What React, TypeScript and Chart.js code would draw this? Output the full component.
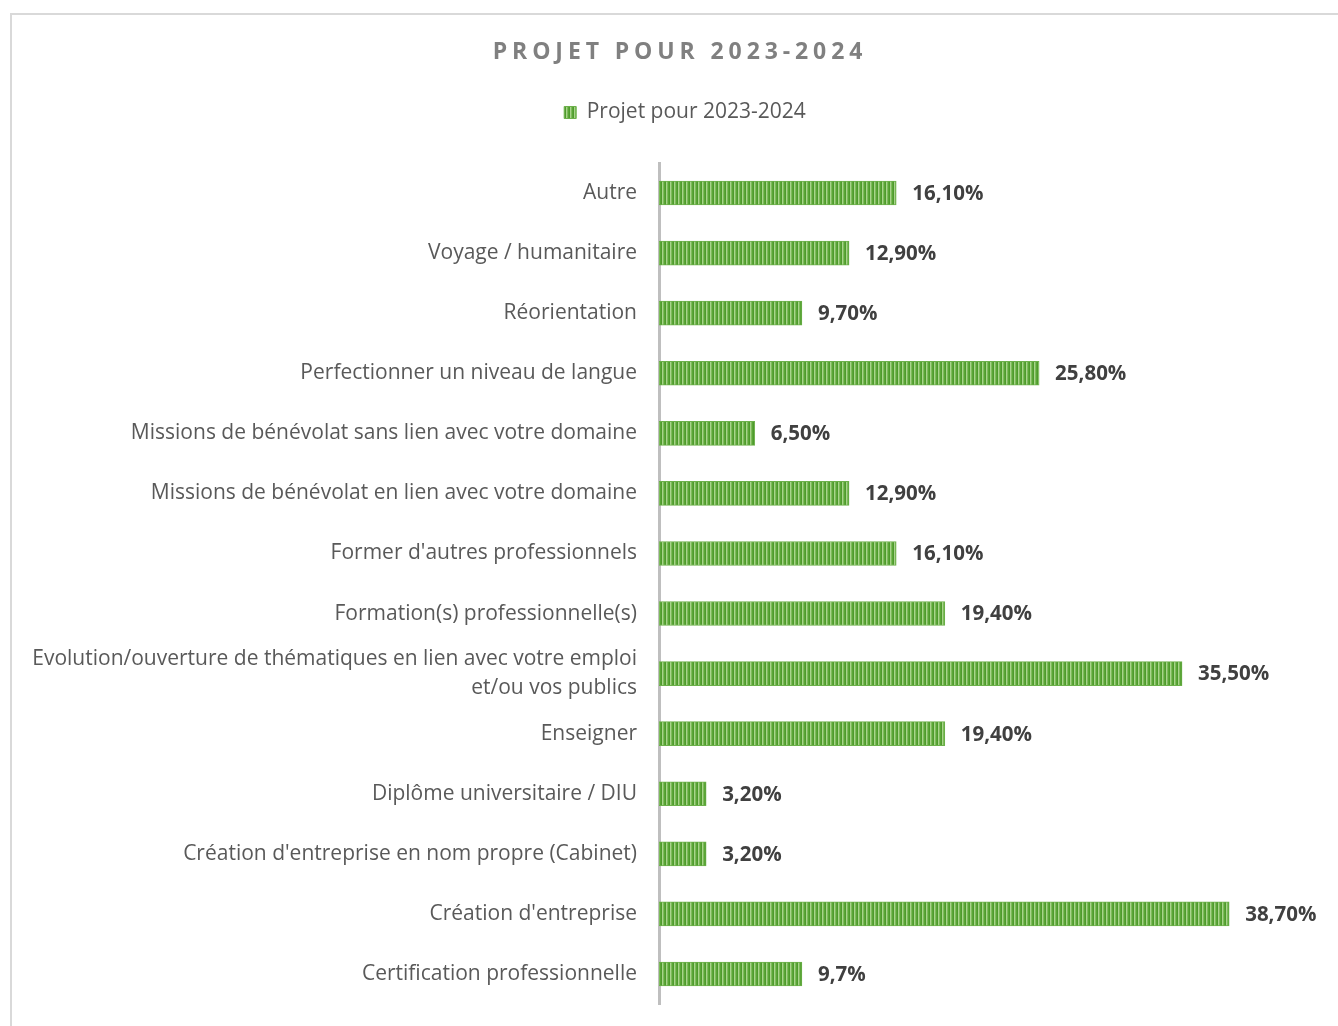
import React, { useEffect, useRef } from "react";
import { Chart, registerables } from "chart.js";

Chart.register(...registerables);

const chartTitle = "PROJET POUR 2023-2024";
const seriesName = "Projet pour 2023-2024";
const categories: (string | string[])[] = [
  "Autre",
  "Voyage / humanitaire",
  "Réorientation",
  "Perfectionner un niveau de langue",
  "Missions de bénévolat sans lien avec votre domaine",
  "Missions de bénévolat en lien avec votre domaine",
  "Former d'autres professionnels",
  "Formation(s) professionnelle(s)",
  ["Evolution/ouverture de thématiques en lien avec votre emploi", "et/ou vos publics"],
  "Enseigner",
  "Diplôme universitaire / DIU",
  "Création d'entreprise en nom propre (Cabinet)",
  "Création d'entreprise",
  "Certification professionnelle",
];
const values = [16.1, 12.9, 9.7, 25.8, 6.5, 12.9, 16.1, 19.4, 35.5, 19.4, 3.2, 3.2, 38.7, 9.7];
const valueLabels = [
  "16,10%", "12,90%", "9,70%", "25,80%", "6,50%", "12,90%", "16,10%",
  "19,40%", "35,50%", "19,40%", "3,20%", "3,20%", "38,70%", "9,7%",
];

const FONT = "'Open Sans', 'Noto Sans', sans-serif";

function makePattern(): CanvasPattern | string {
  const c = document.createElement("canvas");
  c.width = 4;
  c.height = 4;
  const x = c.getContext("2d");
  if (!x) return "#70ad47";
  const cols = ["#5aa537", "#4e9a2c", "#a8d48c", "#7dbb5a"];
  cols.forEach((col, i) => {
    x.fillStyle = col;
    x.fillRect(i, 0, 1, 4);
  });
  const ctx = document.createElement("canvas").getContext("2d");
  return (ctx && ctx.createPattern(c, "repeat")) || "#70ad47";
}

const titlePlugin = {
  id: "spacedTitle",
  afterDraw(chart: any) {
    const ctx = chart.ctx as CanvasRenderingContext2D;
    ctx.save();
    ctx.font = `bold 23px ${FONT}`;
    (ctx as any).letterSpacing = "4.9px";
    ctx.fillStyle = "#808080";
    ctx.textAlign = "center";
    ctx.textBaseline = "middle";
    ctx.fillText(chartTitle, chart.width / 2, 37);
    ctx.restore();
  },
};

const legendGapPlugin = {
  id: "legendGap",
  beforeLayout(chart: any) {
    const lg = chart.legend;
    if (lg && !lg.__gapPatched) {
      const orig = lg.fit;
      lg.fit = function () {
        orig.call(this);
        this.height += 30;
      };
      lg.__gapPatched = true;
    }
  },
  afterLayout(chart: any) {
    const lg = chart.legend;
    if (lg) lg.left += 36;
  },
};

const valueLabelPlugin = {
  id: "valueLabels",
  afterDatasetsDraw(chart: any) {
    const ctx = chart.ctx as CanvasRenderingContext2D;
    const meta = chart.getDatasetMeta(0);
    ctx.save();
    ctx.font = `bold 20.5px ${FONT}`;
    ctx.fillStyle = "#404040";
    ctx.textAlign = "left";
    ctx.textBaseline = "middle";
    meta.data.forEach((el: any, i: number) => {
      ctx.fillText(valueLabels[i], el.x + 16, el.y + 1);
    });
    ctx.restore();
  },
};

export default function App() {
  const ref = useRef<HTMLCanvasElement | null>(null);
  useEffect(() => {
    if (!ref.current) return;
    const pattern = makePattern();
    const chart = new Chart(ref.current, {
      type: "bar",
      data: {
        labels: categories,
        datasets: [
          {
            label: seriesName,
            data: values,
            backgroundColor: pattern as any,
            borderColor: "#6cb04a",
            borderWidth: 1,
            barThickness: 24,
          },
        ],
      },
      options: {
        indexAxis: "y",
        animation: false,
        responsive: false,
        maintainAspectRatio: false,
        layout: { padding: { top: 37, right: 26, bottom: 41, left: 0 } },
        plugins: {
          title: { display: false },
          tooltip: { enabled: false },
          legend: {
            display: true,
            position: "top",
            labels: {
              boxWidth: 12,
              boxHeight: 12,
              font: { family: FONT, size: 21 },
              color: "#595959",
              padding: 50,
            },
          },
        },
        scales: {
          x: {
            display: false,
            min: 0,
            max: 45,
            grid: { display: false },
          },
          y: {
            grid: { display: false, drawTicks: false },
            border: { display: true, color: "#bfbfbf", width: 3 },
            ticks: {
              autoSkip: false,
              padding: 22,
              color: "#595959",
              font: { family: FONT, size: 21, lineHeight: 1.38 },
            },
            afterFit: (scale: any) => {
              scale.width = 647;
            },
          },
        },
      },
      plugins: [legendGapPlugin, titlePlugin, valueLabelPlugin],
    });
    return () => chart.destroy();
  }, []);

  return (
    <div
      style={{
        position: "fixed",
        left: 0,
        top: 0,
        width: 1338,
        height: 1026,
        overflow: "hidden",
        background: "#ffffff",
      }}
    >
      <div
        style={{
          position: "absolute",
          left: 10,
          top: 13,
          width: 1336,
          height: 1030,
          border: "2px solid #d9d9d9",
          background: "#ffffff",
        }}
      >
        <canvas ref={ref} width={1336} height={1030} style={{ display: "block" }} />
      </div>
    </div>
  );
}
